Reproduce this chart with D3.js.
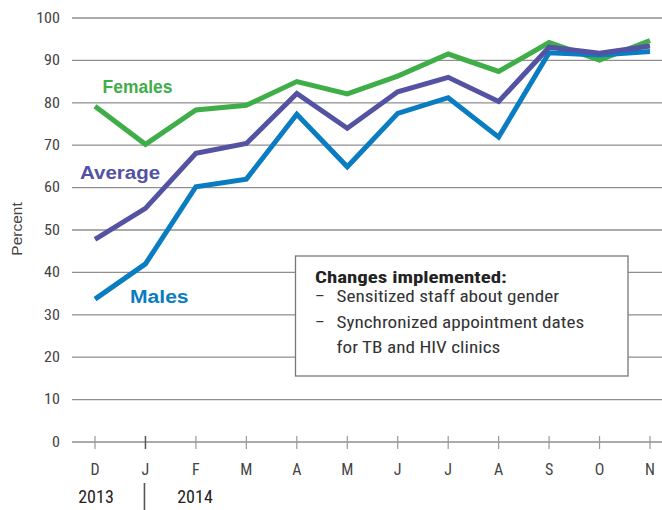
<!DOCTYPE html>
<html><head><meta charset="utf-8">
<script src="https://cdn.jsdelivr.net/npm/d3@7"></script>
<style>body{margin:0;background:#fff}svg{display:block}</style>
</head><body><svg id="c" width="662" height="510"></svg>
<script>
const months = ["D","J","F","M","A","M","J","J","A","S","O","N"];
const females = [79.2,70.2,78.3,79.4,85.0,82.1,86.3,91.5,87.4,94.2,90.1,94.7];
const average = [47.8,55.1,68.1,70.4,82.2,74.0,82.6,86.0,80.3,93.1,91.7,93.4];
const males   = [33.7,42.0,60.2,62.0,77.3,64.9,77.5,81.2,71.9,91.8,91.3,92.1];
const yTicks = [0,10,20,30,40,50,60,70,80,90,100];
const years = ["2013","2014"];
const notes = ["Changes implemented:","Sensitized staff about gender","Synchronized appointment dates","for TB and HIV clinics"];

const svg = d3.select("#c");
const narrow = "'Roboto Condensed','Liberation Sans Narrow',sans-serif";
const sans = "'Liberation Sans',Arial,sans-serif";
const x = d3.scalePoint().domain(d3.range(months.length)).range([95,650]);
const y = d3.scaleLinear().domain([0,100]).range([442,18]);

function txt(g, s, tx, ty, sx, opts){
  const t = g.append("text").attr("transform",`translate(${tx},${ty}) scale(${sx},1)`).text(s);
  Object.entries(opts).forEach(([k,v])=>t.attr(k,v));
  return t;
}

// gridlines
svg.append("g").selectAll("line").data(yTicks).join("line")
  .attr("x1",72).attr("x2",662).attr("y1",d=>y(d)).attr("y2",d=>y(d))
  .attr("stroke","#8f8f8f").attr("stroke-width",1.3);
// y labels
const yl = svg.append("g");
yTicks.forEach(d=>txt(yl, d, 60, y(d)+4.8, 1.15, {"text-anchor":"end","font-family":narrow,"font-size":14,"fill":"#444"}));
svg.append("text").attr("transform","translate(22,229) rotate(-90)").attr("text-anchor","middle")
  .attr("font-family",sans).attr("font-size",15.5).attr("fill","#444").text("Percent");
// x ticks
svg.append("g").selectAll("line").data(months).join("line")
  .attr("x1",(d,i)=>x(i)).attr("x2",(d,i)=>x(i)).attr("y1",436).attr("y2",449)
  .attr("stroke",(d,i)=>i===1?"#555":"#999").attr("stroke-width",(d,i)=>i===1?1.5:1.2);
const xl = svg.append("g");
months.forEach((d,i)=>txt(xl, d, x(i), 475, 1.0, {"text-anchor":"middle","font-family":narrow,"font-size":16,"fill":"#444"}));
// years
txt(svg, years[0], 96, 503, 1.0, {"text-anchor":"middle","font-family":narrow,"font-size":18,"fill":"#222"});
txt(svg, years[1], 195, 503, 1.0, {"text-anchor":"middle","font-family":narrow,"font-size":18,"fill":"#222"});
svg.append("line").attr("x1",x(1)-1).attr("x2",x(1)-1).attr("y1",483).attr("y2",510)
  .attr("stroke","#555").attr("stroke-width",1.6);

// box
svg.append("rect").attr("x",295.5).attr("y",256).attr("width",332.5).attr("height",120)
  .attr("fill","#fff").attr("stroke","#777").attr("stroke-width",1.3);
txt(svg, notes[0], 315, 283, 1.23, {"font-family":narrow,"font-weight":"bold","font-size":17,"fill":"#222"});
[[1,302,true],[2,328,true],[3,353,false]].forEach(([i,yy,dash])=>{
  if(dash) txt(svg, "–", 315, yy, 1.0, {"font-family":narrow,"font-size":17,"fill":"#333"});
  txt(svg, notes[i], 336.5, yy, 1.13, {"font-family":narrow,"font-size":17,"fill":"#333"});
});

// lines
const line = d3.line().x((d,i)=>x(i)).y(d=>y(d));
const series = [
  {name:"Females", data:females, color:"#3fae49"},
  {name:"Males", data:males, color:"#0a7cc1"},
  {name:"Average", data:average, color:"#5452a2"}
];
series.forEach(s=>{
  svg.append("path").datum(s.data).attr("d",line).attr("fill","none")
    .attr("stroke",s.color).attr("stroke-width",5).attr("stroke-linejoin","miter");
});
// series labels
const lab = [
  {t:"Females", x:102.5, y:92.7, c:"#3fae49", s:0.92},
  {t:"Average", x:80, y:179, c:"#5452a2", s:1.08},
  {t:"Males", x:130, y:303, c:"#0a7cc1", s:1.11}
];
lab.forEach(d=>txt(svg, d.t, d.x, d.y, d.s, {"font-family":sans,"font-weight":"bold","font-size":19,"fill":d.c}));
</script></body></html>
